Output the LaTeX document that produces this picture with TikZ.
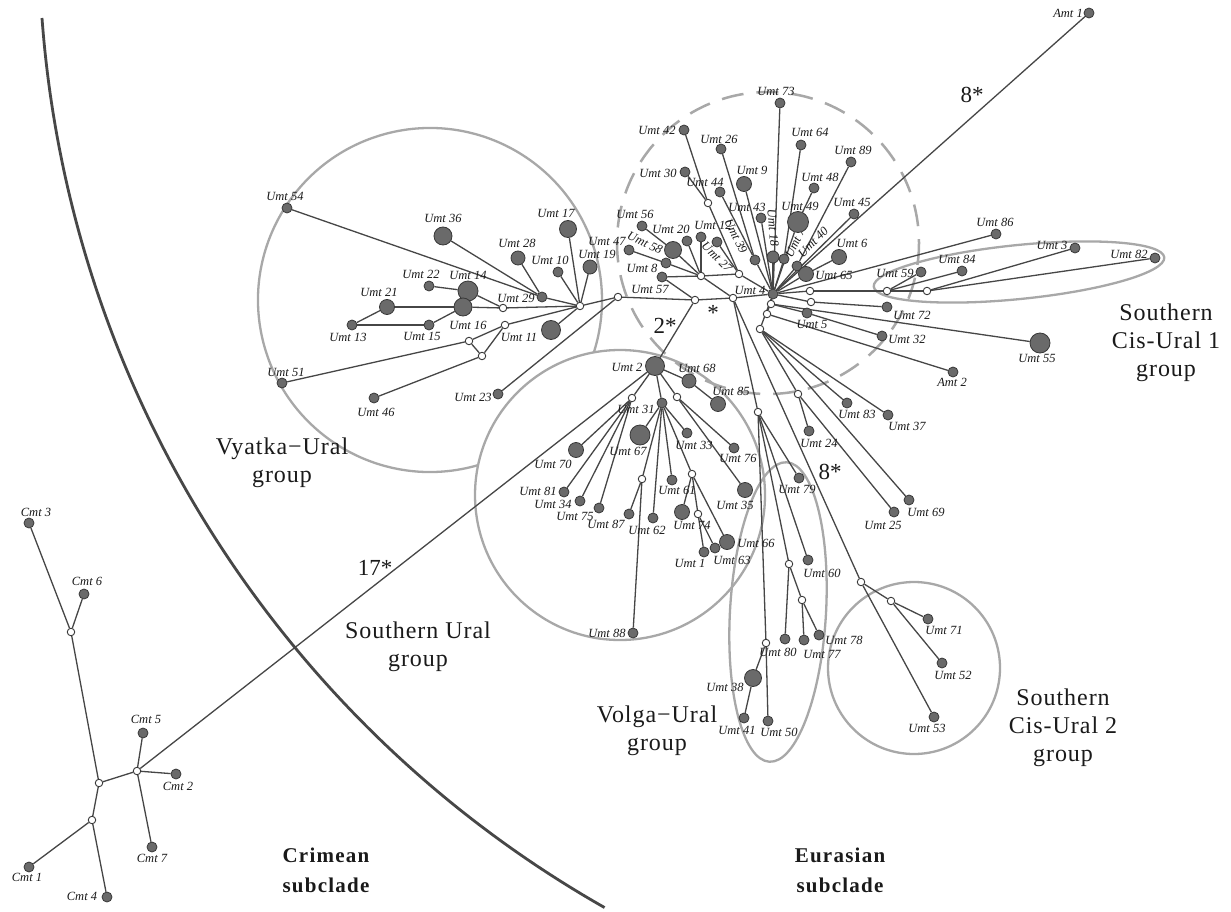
\documentclass[tikz,border=0pt]{standalone}
\usepackage{fontspec}
\setmainfont{Liberation Serif}
\newfontfamily\grpfont[LetterSpace=4]{Liberation Serif}
\newfontfamily\subfont[LetterSpace=6]{Liberation Serif}
\usetikzlibrary{backgrounds}
\definecolor{edgecol}{HTML}{464646}
\definecolor{nodefill}{HTML}{6A6A6A}
\definecolor{nodeedge}{HTML}{383838}
\definecolor{grpcol}{HTML}{A8A8A8}
\definecolor{labcol}{HTML}{1A1A1A}
\definecolor{arccol}{HTML}{474747}
\begin{document}
\begin{tikzpicture}[x=1pt,y=-1pt,
  hap/.style={circle,draw=nodeedge,fill=nodefill,line width=0.8pt,inner sep=0pt,minimum size=#1pt},
  hap/.default=10,
  mv/.style={circle,draw=nodeedge,fill=white,line width=0.9pt,inner sep=0pt,minimum size=7.5pt},
  conn/.style={draw=edgecol,line width=1.3pt},
  lab/.style={font=\fontsize{12.5}{14}\selectfont\itshape,text=labcol,inner sep=0pt},
  grp/.style={font=\grpfont\fontsize{24}{28}\selectfont,text=labcol,align=center,inner sep=0pt},
  sub/.style={font=\subfont\bfseries\fontsize{21}{30}\selectfont,text=labcol,align=center,inner sep=0pt},
  mut/.style={font=\fontsize{23}{26}\selectfont,text=labcol,inner sep=0pt},
  grpline/.style={draw=grpcol,line width=2.3pt},
  dashcirc/.style={draw=grpcol,line width=2.5pt,dash pattern=on 22pt off 13pt},
]
\useasboundingbox (0,0) rectangle (1231,912);

% ---------------- Crimean subclade
\node[hap] (c3) at (29,523) {};
\node[hap] (c6) at (84,594) {};
\node[mv] (cw1) at (71,632) {};
\node[mv] (cw2) at (99,783) {};
\node[mv] (cw3) at (137,771) {};
\node[hap] (c5) at (143,733) {};
\node[hap] (c2) at (176,774) {};
\node[hap] (c7) at (152,847) {};
\node[mv] (cw4) at (92,820) {};
\node[hap] (c1) at (29,867) {};
\node[hap] (c4) at (107,897) {};
\node[lab] (lc3) at (36,512) {Cmt 3};
\node[lab] (lc6) at (87,581) {Cmt 6};
\node[lab] (lc5) at (146,719) {Cmt 5};
\node[lab] (lc2) at (178,786) {Cmt 2};
\node[lab] (lc7) at (152,858) {Cmt 7};
\node[lab] (lc1) at (27,877) {Cmt 1};
\node[lab] (lc4) at (82,896) {Cmt 4};

% ---------------- centre
\node[hap=10] (u4) at (773,294) {};
\node[mv] (wS) at (733,298) {};
\node[mv] (w57) at (695,300) {};
\node[mv] (w618) at (618,297) {};
\node[mv] (vh) at (580,306) {};
\node[hap] (u57) at (662,277) {};
\node[hap] (u8) at (666,263) {};
\node[hap=17] (u58) at (673,250) {};
\node[hap] (u56) at (642,226) {};
\node[hap] (u47) at (629,250) {};
\node[hap] (u20) at (687,241) {};
\node[hap] (u12) at (701,237) {};
\node[hap] (u27) at (717,242) {};
\node[mv] (j20) at (701,276) {};
\node[mv] (w27) at (739,274) {};
\node[mv] (w42) at (708,203) {};
\node[hap] (u42) at (684,130) {};
\node[hap] (u30) at (685,172) {};
\node[hap] (u26) at (721,149) {};
\node[hap] (u44) at (720,192) {};
\node[hap] (u39) at (755,260) {};
\node[hap=15] (u9) at (744,184) {};
\node[hap] (u43) at (761,218) {};
\node[hap] (u73) at (780,103) {};
\node[hap=12] (u18) at (773,257) {};
\node[hap] (u7) at (784,259) {};
\node[hap] (u64) at (801,145) {};
\node[hap] (u48) at (814,188) {};
\node[hap] (u89) at (851,162) {};
\node[hap] (u40) at (797,266) {};
\node[hap] (u45) at (854,214) {};
\node[hap=15] (u6) at (839,257) {};
\node[hap] (u86) at (996,234) {};
\node[hap] (a1) at (1089,13) {};

\node[lab] (l73) at (776,91) {Umt 73};
\node[lab] (l42) at (657,130) {Umt 42};
\node[lab] (l26) at (719,139) {Umt 26};
\node[lab] (l30) at (658,173) {Umt 30};
\node[lab] (l44) at (705,182) {Umt 44};
\node[lab] (l9) at (752,170) {Umt 9};
\node[lab] (l64) at (810,132) {Umt 64};
\node[lab] (l89) at (853,150) {Umt 89};
\node[lab] (l48) at (820,177) {Umt 48};
\node[lab] (l43) at (747,207) {Umt 43};
\node[lab] (l45) at (852,202) {Umt 45};
\node[lab] (l56) at (635,214) {Umt 56};
\node[lab] (l20) at (671,229) {Umt 20};
\node[lab] (l12) at (713,225) {Umt 12};
\node[lab] (l47) at (607,241) {Umt 47};
\node[lab,rotate=-25] (l58) at (645,243) {Umt 58};
\node[lab,rotate=-45] (l27) at (717,257) {Umt 27};
\node[lab,rotate=-64] (l39) at (736,236) {Umt 39};
\node[lab,rotate=-85] (l18) at (773,228) {Umt 18};
\node[lab,rotate=65] (l7) at (795,243) {Umt 7};
\node[lab,rotate=45] (l40) at (813,242) {Umt 40};
\node[lab] (l8) at (642,268) {Umt 8};
\node[lab] (l57) at (650,289) {Umt 57};
\node[lab] (l4) at (750,290) {Umt 4};
\node[lab] (l6) at (852,243) {Umt 6};
\node[lab] (l86) at (995,222) {Umt 86};
\node[lab] (la1) at (1068,13) {Amt 1};
\node[hap=21] (u49) at (798,222) {};
\node[lab] (l49) at (800,206) {Umt 49};
\node[hap=15] (u65) at (806,274) {};
\node[lab] (l65) at (834,275) {Umt 65};

% ---------------- right part
\node[mv] (w810) at (810,291) {};
\node[mv] (w59) at (887,291) {};
\node[mv] (w84) at (927,291) {};
\node[hap] (u59) at (921,272) {};
\node[hap] (u84) at (962,271) {};
\node[hap] (u3) at (1075,248) {};
\node[hap] (u82) at (1155,258) {};
\node[mv] (w811) at (811,302) {};
\node[hap] (u72) at (887,307) {};
\node[mv] (w771) at (771,304) {};
\node[hap] (u5) at (807,313) {};
\node[hap] (u32) at (882,336) {};
\node[hap=20] (u55) at (1040,343) {};
\node[mv] (w767) at (767,314) {};
\node[hap] (a2) at (953,372) {};
\node[mv] (w760) at (760,329) {};
\node[hap] (u83) at (847,403) {};
\node[hap] (u37) at (888,415) {};
\node[mv] (w798) at (798,394) {};
\node[hap] (u24) at (809,431) {};
\node[hap] (u25) at (894,512) {};
\node[hap] (u69) at (909,500) {};
\node[lab] (l59) at (895,273) {Umt 59};
\node[lab] (l84) at (957,259) {Umt 84};
\node[lab] (l3) at (1052,245) {Umt 3};
\node[lab] (l82) at (1129,254) {Umt 82};
\node[lab] (l72) at (912,315) {Umt 72};
\node[lab] (l5) at (812,324) {Umt 5};
\node[lab] (l32) at (907,339) {Umt 32};
\node[lab] (l55) at (1037,358) {Umt 55};
\node[lab] (la2) at (952,382) {Amt 2};
\node[lab] (l83) at (857,414) {Umt 83};
\node[lab] (l37) at (907,426) {Umt 37};
\node[lab] (l24) at (819,443) {Umt 24};
\node[lab] (l25) at (883,525) {Umt 25};
\node[lab] (l69) at (926,512) {Umt 69};

% ---------------- Volga-Ural
\node[mv] (w759) at (758,412) {};
\node[mv] (w766) at (766,643) {};
\node[hap=17] (u38) at (753,678) {};
\node[hap] (u41) at (744,718) {};
\node[hap] (u50) at (768,721) {};
\node[hap] (u79) at (799,478) {};
\node[hap] (u60) at (808,560) {};
\node[mv] (w790) at (789,564) {};
\node[hap] (u80) at (785,639) {};
\node[mv] (w802) at (802,600) {};
\node[hap] (u77) at (804,640) {};
\node[hap] (u78) at (819,635) {};
\node[lab] (l79) at (797,489) {Umt 79};
\node[lab] (l60) at (822,573) {Umt 60};
\node[lab] (l80) at (778,652) {Umt 80};
\node[lab] (l77) at (822,654) {Umt 77};
\node[lab] (l78) at (844,640) {Umt 78};
\node[lab] (l38) at (725,687) {Umt 38};
\node[lab] (l41) at (737,730) {Umt 41};
\node[lab] (l50) at (779,732) {Umt 50};

% ---------------- Southern Cis-Ural 2
\node[mv] (w860) at (861,582) {};
\node[mv] (w890) at (891,601) {};
\node[hap] (u71) at (928,619) {};
\node[hap] (u52) at (942,663) {};
\node[hap] (u53) at (934,717) {};
\node[lab] (l71) at (944,630) {Umt 71};
\node[lab] (l52) at (953,675) {Umt 52};
\node[lab] (l53) at (927,728) {Umt 53};

% ---------------- Southern Ural
\node[hap=19] (u2) at (655,366) {};
\node[hap=14] (u68) at (689,381) {};
\node[hap=15] (u85) at (718,404) {};
\node[mv] (w31) at (632,398) {};
\node[hap] (u31) at (662,403) {};
\node[mv] (w76) at (677,397) {};
\node[hap=20] (u67) at (640,435) {};
\node[hap=15] (u70) at (576,450) {};
\node[hap] (u81) at (564,492) {};
\node[hap] (u34) at (580,501) {};
\node[hap] (u75) at (599,508) {};
\node[mv] (w87) at (642,479) {};
\node[hap] (u87) at (629,514) {};
\node[hap] (u88) at (633,633) {};
\node[hap] (u62) at (653,518) {};
\node[hap] (u61) at (672,480) {};
\node[mv] (w74) at (692,474) {};
\node[hap=15] (u74) at (682,512) {};
\node[mv] (w74b) at (698,514) {};
\node[hap] (u1) at (704,552) {};
\node[hap] (u63) at (715,548) {};
\node[hap=15] (u66) at (727,542) {};
\node[hap] (u33) at (687,433) {};
\node[hap] (u76) at (734,448) {};
\node[hap=15] (u35) at (745,490) {};
\node[lab] (l2) at (627,367) {Umt 2};
\node[lab] (l68) at (697,368) {Umt 68};
\node[lab] (l85) at (731,391) {Umt 85};
\node[lab] (l31) at (636,409) {Umt 31};
\node[lab] (l67) at (628,451) {Umt 67};
\node[lab] (l33) at (694,445) {Umt 33};
\node[lab] (l76) at (738,458) {Umt 76};
\node[lab] (l70) at (553,464) {Umt 70};
\node[lab] (l81) at (538,491) {Umt 81};
\node[lab] (l34) at (553,504) {Umt 34};
\node[lab] (l75) at (575,516) {Umt 75};
\node[lab] (l87) at (606,524) {Umt 87};
\node[lab] (l62) at (647,530) {Umt 62};
\node[lab] (l61) at (677,490) {Umt 61};
\node[lab] (l74) at (692,525) {Umt 74};
\node[lab] (l35) at (735,505) {Umt 35};
\node[lab] (l66) at (756,543) {Umt 66};
\node[lab] (l63) at (732,560) {Umt 63};
\node[lab] (l1) at (690,563) {Umt 1};
\node[lab] (l88) at (607,633) {Umt 88};

% ---------------- Vyatka-Ural
\node[hap] (u54) at (287,208) {};
\node[hap] (u29) at (542,297) {};
\node[hap=18] (u36) at (443,236) {};
\node[hap=14] (u28) at (518,258) {};
\node[hap] (u10) at (558,272) {};
\node[hap=17] (u17) at (568,229) {};
\node[hap=14] (u19) at (590,267) {};
\node[hap=19] (u11) at (551,330) {};
\node[hap=20] (u14) at (468,291) {};
\node[hap=18] (u16) at (463,307) {};
\node[hap] (u22) at (429,286) {};
\node[hap=15] (u21) at (387,307) {};
\node[hap] (u13) at (352,325) {};
\node[hap] (u15) at (429,325) {};
\node[mv] (w29) at (503,308) {};
\node[mv] (wa) at (505,325) {};
\node[mv] (wb) at (469,341) {};
\node[mv] (wc) at (482,356) {};
\node[hap] (u51) at (282,383) {};
\node[hap] (u46) at (374,398) {};
\node[hap] (u23) at (498,394) {};
\node[lab] (l54) at (285,196) {Umt 54};
\node[lab] (l36) at (443,218) {Umt 36};
\node[lab] (l17) at (556,213) {Umt 17};
\node[lab] (l28) at (517,243) {Umt 28};
\node[lab] (l10) at (550,260) {Umt 10};
\node[lab] (l19) at (597,254) {Umt 19};
\node[lab] (l22) at (421,274) {Umt 22};
\node[lab] (l14) at (468,275) {Umt 14};
\node[lab] (l21) at (379,292) {Umt 21};
\node[lab] (l29) at (516,298) {Umt 29};
\node[lab] (l13) at (348,337) {Umt 13};
\node[lab] (l15) at (422,336) {Umt 15};
\node[lab] (l16) at (468,325) {Umt 16};
\node[lab] (l11) at (519,337) {Umt 11};
\node[lab] (l51) at (286,372) {Umt 51};
\node[lab] (l23) at (473,397) {Umt 23};
\node[lab] (l46) at (376,412) {Umt 46};

% ---------------- mutation marks and group names
\node[mut] (m17) at (375,568) {17*};
\node[mut] (m2) at (665,326) {2*};
\node[mut] (ms) at (713,313) {*};
\node[mut] (m8a) at (830,472) {8*};
\node[mut] (m8b) at (972,95) {8*};
\node[grp] (gV) at (282,463) {Vyatka−Ural\\group};
\node[grp] (gSU) at (418,647) {Southern Ural\\group};
\node[grp] (gVU) at (657,731) {Volga−Ural\\group};
\node[grp] (gS2) at (1063,728) {Southern\\Cis-Ural 2\\group};
\node[grp] (gS1) at (1166,343) {Southern\\Cis-Ural 1\\group};
\node[sub] (sC) at (326,870) {Crimean\\subclade};
\node[sub] (sE) at (840,870) {Eurasian\\subclade};

\begin{pgfonlayer}{background}
\fill[white] (0,0) rectangle (1231,912);
% group outlines
\draw[grpline] (620,495) circle[radius=145];
\draw[grpline] (430,300) ++(73.76:172) arc[start angle=73.76,end angle=377.74,radius=172];
\draw[grpline,rotate around={-3.3:(778,612)}] (778,612) ellipse[x radius=48,y radius=150];
\draw[grpline] (914,668) circle[radius=86];
\draw[grpline,rotate around={5.75:(1019,272)}] (1019,272) ellipse[x radius=146,y radius=27];
\draw[dashcirc] (768,243) circle[radius=151];
% subclade divider
\draw[draw=arccol,line width=2.8pt] (42,18) arc[start angle=175.78,end angle=119.6,radius=1117.7];

% connectors: Crimean
\draw[conn] (c3) -- (cw1);
\draw[conn] (c6) -- (cw1);
\draw[conn] (cw1) -- (cw2);
\draw[conn] (cw2) -- (cw3);
\draw[conn] (cw3) -- (c5);
\draw[conn] (cw3) -- (c2);
\draw[conn] (cw3) -- (c7);
\draw[conn] (cw2) -- (cw4);
\draw[conn] (cw4) -- (c1);
\draw[conn] (cw4) -- (c4);
\draw[conn] (cw3) -- (u2);
% main chain
\draw[conn] (vh) -- (w618);
\draw[conn] (w618) -- (w57);
\draw[conn] (w57) -- (wS);
\draw[conn] (wS) -- (u4);
\draw[conn] (w618) -- (u23);
\draw[conn] (u2) -- (w57);
% centre
\draw[conn] (u56) -- (u58);
\draw[conn] (u58) -- (j20);
\draw[conn] (u47) -- (u8);
\draw[conn] (u8) -- (j20);
\draw[conn] (u20) -- (j20);
\draw[conn] (u12) -- (j20);
\draw[conn] (u57) -- (j20);
\draw[conn] (u57) -- (w57);
\draw[conn] (j20) -- (w27);
\draw[conn] (j20) -- (wS);
\draw[conn] (u27) -- (w27);
\draw[conn] (w27) -- (u4);
\draw[conn] (u42) -- (w42);
\draw[conn] (u30) -- (w42);
\draw[conn] (w42) -- (w27);
\draw[conn] (u26) -- (u39);
\draw[conn] (u44) -- (u39);
\draw[conn] (u39) -- (u4);
\draw[conn] (u9) -- (u4);
\draw[conn] (u43) -- (u4);
\draw[conn] (u73) -- (u4);
\draw[conn] (u18) -- (u4);
\draw[conn] (u64) -- (u7);
\draw[conn] (u7) -- (u4);
\draw[conn] (u48) -- (u49);
\draw[conn] (u49) -- (u4);
\draw[conn] (u89) -- (u40);
\draw[conn] (u40) -- (u4);
\draw[conn] (u45) -- (u4);
\draw[conn] (u6) -- (u65);
\draw[conn] (u65) -- (u4);
\draw[conn] (u86) -- (u4);
\draw[conn] (a1) -- (u4);
% right
\draw[conn] (u4) -- (w810);
\draw[conn] (w810) -- (w59);
\draw[conn] (w59) -- (u59);
\draw[conn] (w59) -- (u84);
\draw[conn] (w59) -- (w84);
\draw[conn] (w84) -- (u3);
\draw[conn] (w84) -- (u82);
\draw[conn] (u4) -- (w811);
\draw[conn] (w811) -- (u72);
\draw[conn] (u4) -- (w771);
\draw[conn] (w771) -- (u55);
\draw[conn] (w771) -- (u5);
\draw[conn] (u5) -- (u32);
\draw[conn] (u4) -- (w767);
\draw[conn] (w767) -- (a2);
\draw[conn] (u4) -- (w760);
\draw[conn] (w760) -- (u83);
\draw[conn] (w760) -- (u37);
\draw[conn] (w760) -- (w798);
\draw[conn] (w798) -- (u24);
\draw[conn] (w798) -- (u25);
\draw[conn] (w760) -- (u69);
% Volga-Ural
\draw[conn] (wS) -- (w759);
\draw[conn] (w759) -- (w766);
\draw[conn] (w766) -- (u38);
\draw[conn] (u38) -- (u41);
\draw[conn] (w766) -- (u50);
\draw[conn] (w759) -- (u79);
\draw[conn] (w759) -- (u60);
\draw[conn] (w759) -- (w790);
\draw[conn] (w790) -- (u80);
\draw[conn] (w790) -- (w802);
\draw[conn] (w802) -- (u77);
\draw[conn] (w802) -- (u78);
% Southern Cis-Ural 2
\draw[conn] (wS) -- (w860);
\draw[conn] (w860) -- (w890);
\draw[conn] (w890) -- (u71);
\draw[conn] (w890) -- (u52);
\draw[conn] (w860) -- (u53);
% Southern Ural
\draw[conn] (u2) -- (u68);
\draw[conn] (u68) -- (u85);
\draw[conn] (u2) -- (w31);
\draw[conn] (w31) -- (u70);
\draw[conn] (w31) -- (u81);
\draw[conn] (w31) -- (u34);
\draw[conn] (w31) -- (u75);
\draw[conn] (u2) -- (u31);
\draw[conn] (u31) -- (u67);
\draw[conn] (u31) -- (w87);
\draw[conn] (w87) -- (u87);
\draw[conn] (w87) -- (u88);
\draw[conn] (u31) -- (u62);
\draw[conn] (u31) -- (u61);
\draw[conn] (u31) -- (w74);
\draw[conn] (w74) -- (u74);
\draw[conn] (w74) -- (w74b);
\draw[conn] (w74b) -- (u1);
\draw[conn] (w74b) -- (u63);
\draw[conn] (w74) -- (u66);
\draw[conn] (u31) -- (u33);
\draw[conn] (u2) -- (w76);
\draw[conn] (w76) -- (u76);
\draw[conn] (w76) -- (u35);
% Vyatka-Ural
\draw[conn] (u54) -- (u29);
\draw[conn] (u36) -- (u29);
\draw[conn] (u28) -- (u29);
\draw[conn] (u29) -- (vh);
\draw[conn] (u10) -- (vh);
\draw[conn] (u17) -- (vh);
\draw[conn] (u19) -- (vh);
\draw[conn] (u11) -- (vh);
\draw[conn] (u22) -- (u14);
\draw[conn] (u14) -- (w29);
\draw[conn] (u21) -- (u16);
\draw[conn] (u16) -- (w29);
\draw[conn] (w29) -- (vh);
\draw[conn] (u13) -- (u21);
\draw[conn] (u13) -- (u15);
\draw[conn] (u15) -- (u16);
\draw[conn] (vh) -- (wa);
\draw[conn] (wa) -- (wb);
\draw[conn] (wb) -- (u51);
\draw[conn] (wa) -- (wc);
\draw[conn] (wb) -- (wc);
\draw[conn] (wc) -- (u46);
\end{pgfonlayer}
\end{tikzpicture}
\end{document}
